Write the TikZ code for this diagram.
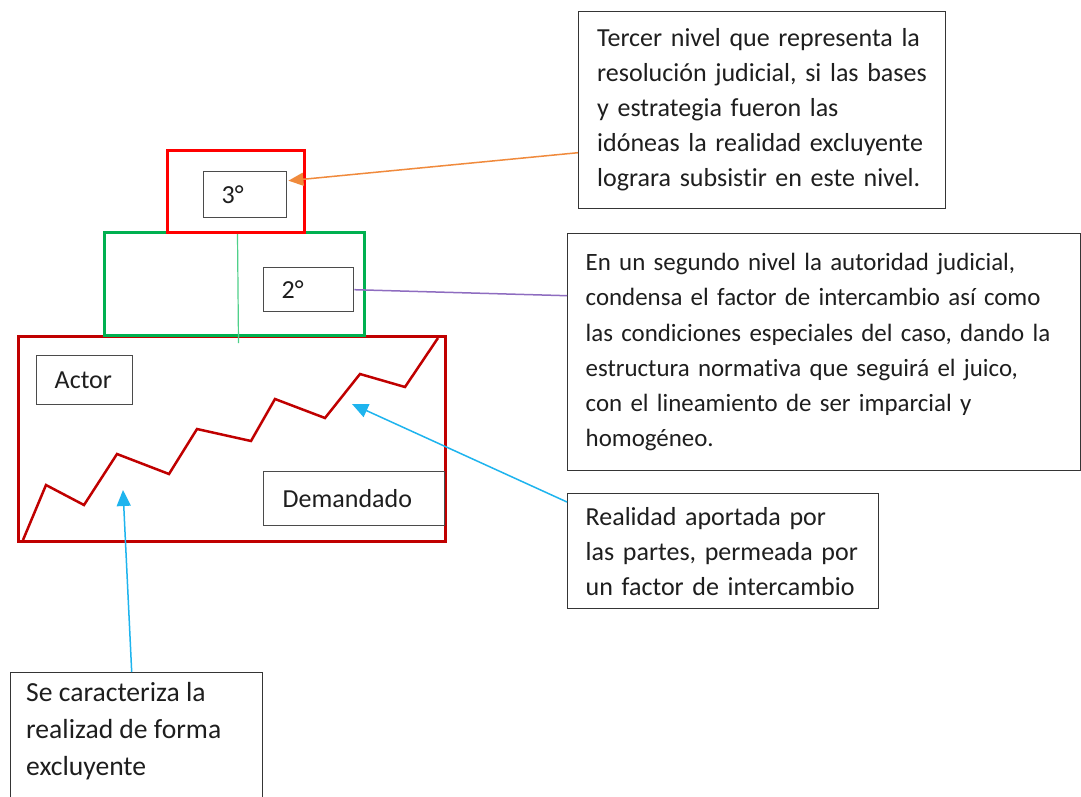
\documentclass[tikz,border=0pt]{standalone}
\usepackage{fontspec}
\setmainfont{Carlito}[Ligatures=NoCommon]
\usetikzlibrary{arrows.meta,calc}
\definecolor{bred}{HTML}{FF0000}
\definecolor{dred}{HTML}{C00000}
\definecolor{lgreen}{HTML}{00B050}
\definecolor{tgreen}{HTML}{4FD08A}
\definecolor{lblue}{HTML}{1EB4EE}
\definecolor{orng}{HTML}{F08A3C}
\definecolor{purp}{HTML}{8E6CC0}
\definecolor{ink}{HTML}{1E1E1E}
\begin{document}
\begin{tikzpicture}[x=1pt,y=-1pt,
  txt/.style={font=\fontsize{26}{35}\selectfont, text=ink},
  tbox/.style={draw=ink!90, line width=1.4pt, inner ysep=0pt, txt, align=left},
  lbox/.style={draw=ink!80, line width=1.4pt, inner ysep=0pt, txt, align=left},
  lvl/.style={line width=3pt, inner sep=0pt},
  conn/.style={line width=1.5pt}
]
\useasboundingbox (0,0) rectangle (1081,796);
\clip (0,0) rectangle (1081,796);
\fill[white] (0,0) rectangle (1081,796);

% level boxes
\node[lvl, draw=dred, anchor=north west, minimum width=427pt, minimum height=205pt] (big) at (17,335) {};
\node[lvl, draw=lgreen, anchor=north west, minimum width=260pt, minimum height=103pt] (lvl2) at (103,231) {};
\node[lvl, draw=bred, anchor=north west, minimum width=137pt, minimum height=82pt] (lvl3) at (166,149) {};

% thin green line
\draw[tgreen, line width=1.2pt] ([xshift=1.5pt]lvl3.south) -- ++(1,109);

% zigzag
\draw[dred, line width=2.5pt, line join=miter] (23,540) -- (46,485) -- (84,505) -- (117,454) -- (169,474) -- (197,429) -- (251,441) -- (275,399) -- (325,418) -- (360,374) -- (405,387) -- (438,338);

% inner label boxes
\node[lbox, anchor=north west, minimum height=46pt, text width=47pt, inner xsep=18pt] (n3) at (203,171) {3°};
\node[lbox, anchor=north west, minimum height=44pt, text width=54pt, inner xsep=18pt] (n2) at (263,267) {2°};
\node[lbox, anchor=north west, minimum height=49pt, text width=60pt, inner xsep=18pt] (actor) at (36,355) {Actor};
\node[lbox, anchor=north west, minimum height=54pt, text width=143pt, inner xsep=19pt] (dem) at (263,471) {Demandado};

% text boxes
\node[tbox, anchor=north west, minimum height=197pt, text width=330pt, inner xsep=18.5pt] (t3) at (578,11)
  {Tercer nivel que representa la\\ resolución judicial, si las bases\\ y estrategia fueron las\\ idóneas la realidad excluyente\\ lograra subsistir en este nivel.};
\node[tbox, anchor=north west, minimum height=237pt, text width=477pt, inner xsep=18pt, font=\fontsize{24.9}{35.2}\selectfont] (t2) at (567,233)
  {En un segundo nivel la autoridad judicial,\\ condensa el factor de intercambio así como\\ las condiciones especiales del caso, dando la\\ estructura normativa que seguirá el juico,\\ con el lineamiento de ser imparcial y\\ homogéneo.};
\node[tbox, anchor=north west, minimum height=115pt, text width=275pt, inner xsep=18pt] (rl) at (567,493)
  {Realidad aportada por\\ las partes, permeada por\\ un factor de intercambio};
\node[tbox, anchor=north west, minimum width=252pt, minimum height=150pt] (sebox) at (10,672) {};
\node[txt, anchor=north west, align=left, inner sep=0pt, font=\fontsize{27.6}{37}\selectfont] (se) at (26,682)
  {Se caracteriza la\\ realizad de forma\\ excluyente};

% connectors
\coordinate (tipA) at (123,490);
\coordinate (tipB) at (352,404);
\draw[conn, orng, -{Triangle[length=15pt,width=13pt]}] ([yshift=-42.5pt]t3.west) -- ([yshift=14pt,xshift=1pt]n3.east);
\draw[conn, purp] (n2.east) -- ([yshift=56.5pt]t2.west);
\draw[conn, lblue, -{Triangle[length=16pt,width=14pt]}] ([xshift=-5pt]sebox.north) -- (tipA);
\draw[conn, lblue, -{Triangle[length=16pt,width=14pt]}] ([yshift=-9pt]rl.north west) -- (tipB);
\end{tikzpicture}
\end{document}
